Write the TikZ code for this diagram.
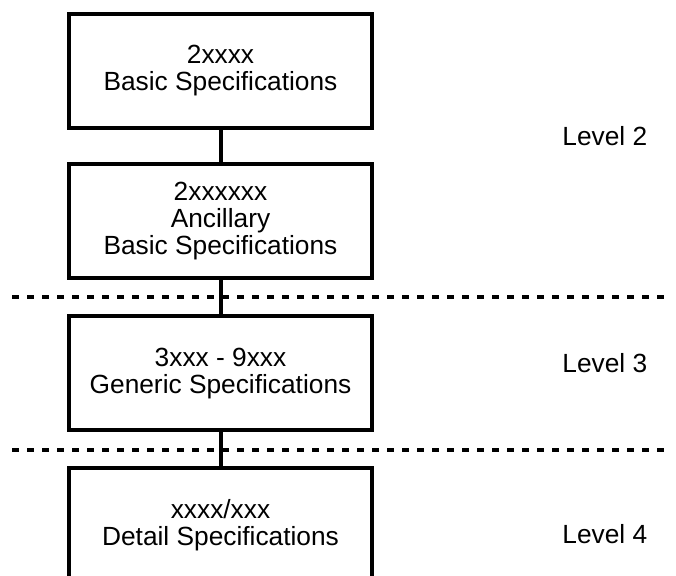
\documentclass[tikz,border=0pt]{standalone}
\usepackage{fontspec}
\setmainfont{Liberation Sans}
\begin{document}
\begin{tikzpicture}[x=0.5pt,y=-0.5pt,
  specbox/.style={draw=black,line width=2pt,fill=white,minimum width=151.5pt,minimum height=57pt,
    inner sep=0pt,align=center,font=\fontsize{13.15}{13.5}\selectfont},
  levellabel/.style={anchor=base west,inner sep=0pt,font=\fontsize{13.15}{13.5}\selectfont},
  link/.style={draw=black,line width=2pt},
  divider/.style={draw=black,line width=2pt,dash pattern=on 3.5pt off 4pt}]
\useasboundingbox (0,0) rectangle (676,576);
\coordinate (d1a) at (12,297);
\coordinate (d1b) at (671,297);
\coordinate (d2a) at (12,450);
\coordinate (d2b) at (671,450);
\draw[divider] (d1a) -- (d1b);
\draw[divider] (d2a) -- (d2b);
\node[specbox] (b1) at (220.5,71) {2xxxx\\Basic Specifications};
\node[specbox] (b2) at (220.5,221.5) {2xxxxxx\\Ancillary\\Basic Specifications};
\node[specbox] (b3) at (220.5,373.5) {3xxx - 9xxx\\Generic Specifications};
\node[specbox] (b4) at (220.5,525.5) {xxxx/xxx\\Detail Specifications};
\draw[link] (b1.south) -- (b2.north);
\draw[link] (b2.south) -- (b3.north);
\draw[link] (b3.south) -- (b4.north);
\node[levellabel] (l2) at (562,146) {Level 2};
\node[levellabel] (l3) at (562,373) {Level 3};
\node[levellabel] (l4) at (562,544) {Level 4};
\end{tikzpicture}
\end{document}
